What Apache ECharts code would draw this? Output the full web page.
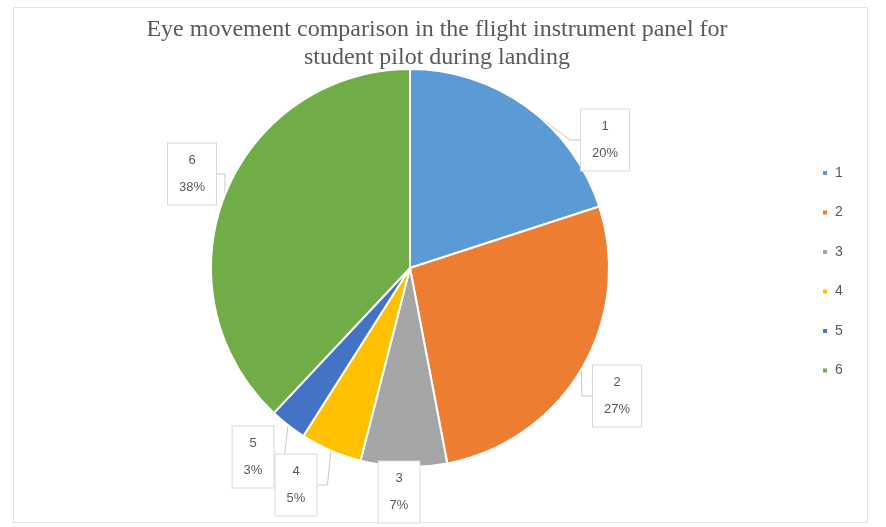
<!DOCTYPE html>
<html>
<head>
<meta charset="utf-8">
<script src="https://cdn.jsdelivr.net/npm/echarts@6/dist/echarts.min.js"></script>
<style>
  html, body { margin: 0; padding: 0; background: #fff; }
  #chart { width: 886px; height: 527px; }
</style>
</head>
<body>
<div id="chart"></div>
<script>
// Instrument categories and share of eye movements (%)
const categories = ['1', '2', '3', '4', '5', '6'];
const shares = [20, 27, 7, 5, 3, 38];
const sliceColors = ['#5B9BD5', '#ED7D31', '#A5A5A5', '#FFC000', '#4472C4', '#70AD47'];

// Callout box centres, placed around the pie
const calloutPos = [
  [605, 140], [617, 396], [399, 492], [296, 485], [253, 457], [192, 174]
];

const chart = echarts.init(document.getElementById('chart'), null, { renderer: 'canvas' });

chart.setOption({
  backgroundColor: '#ffffff',
  animation: false,
  title: {
    text: 'Eye movement comparison in the flight instrument panel for\nstudent pilot during landing',
    left: 432,
    top: 11,
    textAlign: 'center',
    textStyle: {
      fontFamily: 'Liberation Serif',
      fontWeight: 'normal',
      fontSize: 24,
      lineHeight: 28,
      color: '#595959'
    }
  },
  graphic: [{
    type: 'rect',
    shape: { x: 13.5, y: 7.5, width: 854, height: 515 },
    style: { fill: 'none', stroke: '#e3e3e3', lineWidth: 1 },
    silent: true,
    z: -1
  }],
  legend: {
    orient: 'vertical',
    left: 816,
    top: 161,
    itemWidth: 6,
    itemHeight: 6,
    itemGap: 25.5,
    icon: 'rect',
    data: categories,
    textStyle: {
      fontFamily: 'Liberation Sans',
      fontSize: 14,
      color: '#595959',
      padding: [0, 0, 0, 2]
    }
  },
  series: [{
    type: 'pie',
    center: [410, 268],
    radius: [0, 199],
    startAngle: 90,
    clockwise: true,
    data: categories.map((c, i) => ({
      name: c,
      value: shares[i],
      itemStyle: { color: sliceColors[i] }
    })),
    itemStyle: { borderColor: '#ffffff', borderWidth: 2 },
    label: {
      show: true,
      position: 'outside',
      formatter: p => p.name + '\n' + p.value + '%',
      fontFamily: 'Liberation Sans',
      fontSize: 13,
      lineHeight: 27,
      color: '#595959',
      align: 'center',
      backgroundColor: '#ffffff',
      borderColor: '#d9d9d9',
      borderWidth: 1,
      padding: [4, 11, 3, 11]
    },
    labelLine: {
      show: true,
      length: 10,
      length2: 10,
      lineStyle: { color: '#c8c8c8', width: 1 }
    },
    labelLayout: function (params) {
      const p = calloutPos[params.dataIndex];
      return {
        x: p[0],
        y: p[1],
        align: 'center',
        verticalAlign: 'middle'
      };
    },
    emphasis: { disabled: true }
  }]
});
</script>
</body>
</html>
